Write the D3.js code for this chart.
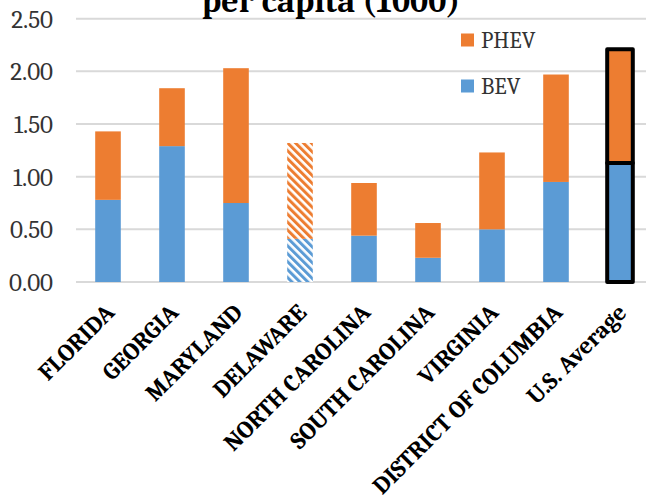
<!DOCTYPE html>
<html>
<head>
<meta charset="utf-8">
<script src="https://cdn.jsdelivr.net/npm/d3@7"></script>
<style>
  html, body { margin: 0; padding: 0; background: #fff; }
  svg { display: block; }
</style>
</head>
<body>
<svg id="chart" width="646" height="504"></svg>
<script>
// Plug-in EV registrations per capita (per 1000), by state
const states = ["FLORIDA", "GEORGIA", "MARYLAND", "DELAWARE", "NORTH CAROLINA",
                "SOUTH CAROLINA", "VIRGINIA", "DISTRICT OF COLUMBIA", "U.S. Average"];
const bev  = [0.78, 1.29, 0.75, 0.41, 0.44, 0.23, 0.50, 0.95, 1.13];
const phev = [0.65, 0.55, 1.28, 0.91, 0.50, 0.33, 0.73, 1.02, 1.08];
const yTicks = [0, 0.5, 1.0, 1.5, 2.0, 2.5];
const seriesNames = ["BEV", "PHEV"];
const hatched = ["DELAWARE"];
const highlighted = ["U.S. Average"];

const colors = { BEV: "#5B9BD5", PHEV: "#ED7D31" };
const serif = "Cambria, 'Liberation Serif', 'DejaVu Serif', serif";

const svg = d3.select("#chart");

const x = d3.scaleBand()
  .domain(states)
  .range([76, 652])
  .paddingInner(0.6)
  .paddingOuter(0.3);

const y = d3.scaleLinear()
  .domain([0, 2.5])
  .range([282, 18.7]);

// Hatch patterns for the partial-data state
const defs = svg.append("defs");
seriesNames.forEach(name => {
  const p = defs.append("pattern")
    .attr("id", "hatch-" + name)
    .attr("patternUnits", "userSpaceOnUse")
    .attr("width", 5.6)
    .attr("height", 8)
    .attr("patternTransform", "rotate(-45)");
  p.append("rect").attr("width", 5.6).attr("height", 8).attr("fill", "#fff");
  p.append("rect").attr("x", 0).attr("y", 0).attr("width", 3).attr("height", 8)
    .attr("fill", colors[name]);
});

// Gridlines
svg.append("g")
  .selectAll("line")
  .data(yTicks)
  .join("line")
  .attr("x1", 76)
  .attr("x2", 652)
  .attr("y1", d => y(d))
  .attr("y2", d => y(d))
  .attr("stroke", "#D9D9D9")
  .attr("stroke-width", 2);

// Y tick labels
svg.append("g")
  .selectAll("text")
  .data(yTicks)
  .join("text")
  .attr("x", 53)
  .attr("y", d => y(d))
  .attr("dy", "0.36em")
  .attr("text-anchor", "end")
  .attr("font-family", serif)
  .attr("font-size", 25)
  .attr("fill", "#333")
  .text(d => d3.format(".2f")(d));

// Stacked bars
const rows = states.map((s, i) => ({ state: s, BEV: bev[i], PHEV: phev[i] }));
const stack = d3.stack().keys(seriesNames)(rows);

const bars = svg.append("g");
stack.forEach(layer => {
  const key = layer.key;
  bars.append("g")
    .selectAll("rect")
    .data(layer)
    .join("rect")
    .attr("x", d => x(d.data.state))
    .attr("width", x.bandwidth())
    .attr("y", d => y(d[1]))
    .attr("height", d => y(d[0]) - y(d[1]))
    .attr("fill", d => hatched.includes(d.data.state) ? `url(#hatch-${key})` : colors[key])
    .attr("stroke", d => highlighted.includes(d.data.state) ? "#000" : "none")
    .attr("stroke-width", d => highlighted.includes(d.data.state) ? 4 : 0)
    .attr("stroke-linejoin", "round");
});

// Category labels, rotated
svg.append("g")
  .selectAll("text")
  .data(states)
  .join("text")
  .attr("transform", d => `translate(${x(d) + x.bandwidth() / 2 + 2},${308}) rotate(-45)`)
  .attr("dy", "0.35em")
  .attr("text-anchor", "end")
  .attr("font-family", serif)
  .attr("font-weight", "bold")
  .attr("font-size", 24)
  .attr("fill", "#000")
  .text(d => d);

// Legend
const legend = svg.append("g");
const legendItems = ["PHEV", "BEV"];
legend.selectAll("rect")
  .data(legendItems)
  .join("rect")
  .attr("x", 461)
  .attr("y", (d, i) => 33.5 + i * 46)
  .attr("width", 13)
  .attr("height", 13)
  .attr("fill", d => colors[d]);
legend.selectAll("text")
  .data(legendItems)
  .join("text")
  .attr("x", 481)
  .attr("y", (d, i) => 40 + i * 46)
  .attr("dy", "0.36em")
  .attr("font-family", serif)
  .attr("font-size", 23)
  .attr("fill", "#333")
  .text(d => d);

// Title (second line of the chart heading)
svg.append("text")
  .attr("x", 331)
  .attr("y", 12)
  .attr("text-anchor", "middle")
  .attr("font-family", serif)
  .attr("font-weight", "bold")
  .attr("font-size", 34)
  .attr("fill", "#000")
  .text("per capita (1000)");
</script>
</body>
</html>
